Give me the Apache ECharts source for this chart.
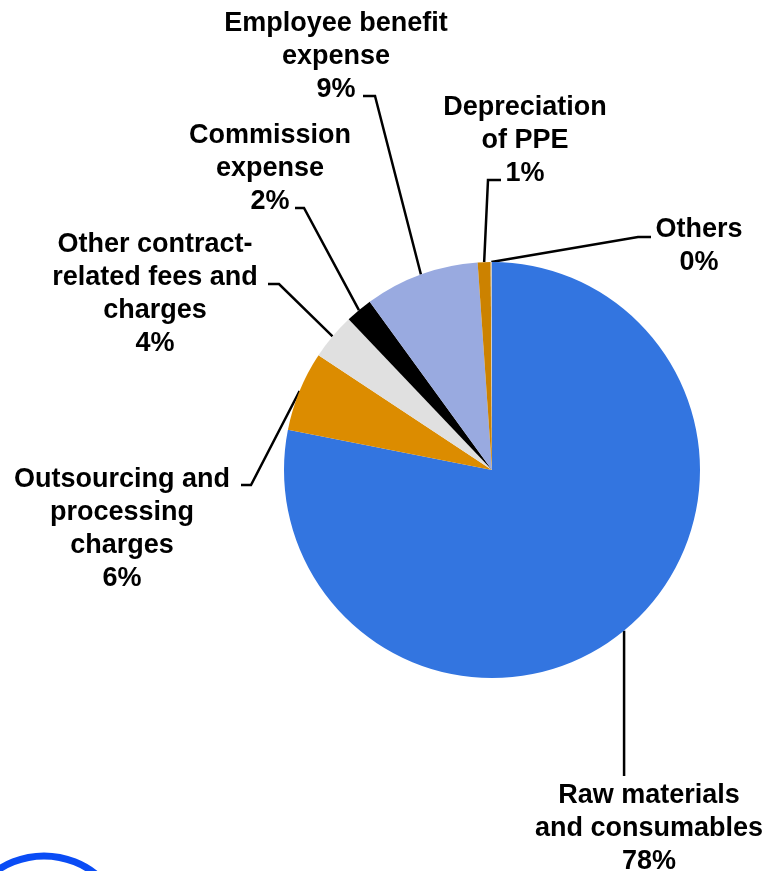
<!DOCTYPE html>
<html>
<head>
<meta charset="utf-8">
<script src="https://cdn.jsdelivr.net/npm/echarts@6/dist/echarts.min.js"></script>
<style>
  html, body { margin: 0; padding: 0; background: #ffffff; }
  #chart { width: 769px; height: 871px; }
</style>
</head>
<body>
<div id="chart"></div>
<script>
// Cost breakdown categories, clockwise from 12 o'clock
const categories = [
  'Raw materials\nand consumables',
  'Outsourcing and\nprocessing\ncharges',
  'Other contract-\nrelated fees and\ncharges',
  'Commission\nexpense',
  'Employee benefit\nexpense',
  'Depreciation\nof PPE',
  'Others'
];
// Share of total cost (%)
const shares = [78.1, 6.2, 3.6, 2.1, 8.9, 1.0, 0.1];

const sliceColors = ['#3375e0', '#dc8c00', '#e0e0e0', '#000000', '#99aae0', '#cc8200', '#c8c8c8'];

// Label placement: text block centre-x / top-y, and leader-line knee + end points
const labelPlacement = [
  { x: 649, y: 779, knee: null,       end: null },
  { x: 122, y: 463, knee: [251, 485], end: [241, 485] },
  { x: 155, y: 228, knee: [279, 284], end: [268, 284] },
  { x: 270, y: 119, knee: [304, 208], end: [295, 208] },
  { x: 336, y: 7,   knee: [375, 96],  end: [363, 96] },
  { x: 525, y: 91,  knee: [488, 180], end: [501, 180] },
  { x: 699, y: 213, knee: [638, 237], end: [651, 237] }
];
// Vertical leader for the large slice ends just above its label
const verticalLeaderEndY = 776;

const chart = echarts.init(document.getElementById('chart'), null, { renderer: 'canvas' });

chart.setOption({
  backgroundColor: '#ffffff',
  animation: false,
  graphic: [{
    type: 'circle',
    shape: { cx: 44, cy: 939, r: 83 },
    style: { fill: 'none', stroke: '#0a4cf5', lineWidth: 7 },
    silent: true
  }],
  series: [{
    type: 'pie',
    center: [492, 470],
    radius: 208,
    startAngle: 90,
    clockwise: true,
    percentPrecision: 0,
    avoidLabelOverlap: false,
    data: categories.map((name, i) => ({
      name: name,
      value: shares[i],
      itemStyle: { color: sliceColors[i] }
    })),
    itemStyle: { borderWidth: 0 },
    label: {
      show: true,
      position: 'outside',
      formatter: '{b}\n{d}%',
      fontFamily: '"Liberation Sans", Arial, sans-serif',
      fontWeight: 'bold',
      fontSize: 27,
      lineHeight: 33,
      color: '#000000',
      align: 'center'
    },
    labelLine: {
      show: true,
      length: 20,
      length2: 10,
      lineStyle: { color: '#000000', width: 2.5 }
    },
    labelLayout: function (params) {
      const p = labelPlacement[params.dataIndex];
      const start = params.labelLinePoints[0];
      let knee = p.knee, end = p.end;
      if (!knee) {
        knee = [start[0], verticalLeaderEndY];
        end = knee;
      }
      return {
        x: p.x,
        y: p.y,
        align: 'center',
        verticalAlign: 'top',
        labelLinePoints: [start, knee, end]
      };
    },
    emphasis: { disabled: true }
  }]
});
</script>
</body>
</html>
